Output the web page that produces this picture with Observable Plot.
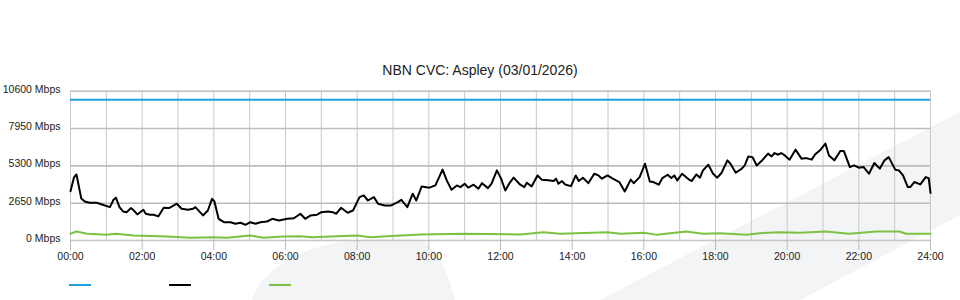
<!DOCTYPE html>
<html>
<head>
<meta charset="utf-8">
<script src="https://cdn.jsdelivr.net/npm/d3@7"></script>
<script src="https://cdn.jsdelivr.net/npm/@observablehq/plot@0.6"></script>
<style>
  body { margin: 0; background: #fff; font-family: "Liberation Sans", Arial, sans-serif; }
  #wrap { position: relative; width: 960px; height: 300px; overflow: hidden; }
  #bg { position: absolute; left: 0; top: 0; }
  #title { position: absolute; left: 0; top: 61px; width: 960px; text-align: center; font-size: 14px; line-height: 18px; color: #222; }
  #chart { position: absolute; left: 0; top: 80px; }
  #legend { position: absolute; left: 0; top: 284px; width: 960px; height: 4px; }
  .sw { position: absolute; top: 0; width: 22px; height: 2px; }
</style>
</head>
<body>
<div id="wrap">
  <svg id="bg" width="960" height="300">
    <path d="M600,300 L960,112 L960,215 L800,300 Z" fill="#f3f4f6"/>
    <path d="M252,300 C262,270 300,244 360,240 C395,238 415,238 425,242 C440,255 448,275 455,300 Z" fill="#f3f4f6"/>
  </svg>
  <div id="title">NBN CVC: Aspley (03/01/2026)</div>
  <div id="chart"></div>
  <div id="legend"></div>
</div>
<script>
// ---- data (time in minutes after midnight, values in Mbps) ----
const capacity = 10000; // blue line

const usageTimes = [0,6,10,18,24,32,44,49,66,72,76,82,88,94,101,105,112,122,126,133,139,147,156,165,178,186,197,205,209,222,230,237,241,248,257,268,276,285,293,301,310,318,329,338,349,363,374,385,393,402,413,420,431,439,445,453,464,473,484,491,498,508,515,526,537,548,554,564,573,579,588,601,611,623,630,638,647,653,660,666,675,683,689,699,705,714,721,728,735,742,753,760,764,772,782,789,800,809,813,817,823,828,838,846,851,858,867,877,884,890,899,908,919,928,938,943,953,962,970,976,985,991,1000,1006,1011,1016,1024,1036,1040,1048,1054,1059,1068,1076,1083,1090,1100,1105,1114,1124,1129,1135,1142,1149,1157,1168,1174,1179,1185,1190,1196,1204,1214,1224,1232,1241,1247,1256,1264,1270,1279,1289,1295,1305,1312,1320,1328,1337,1346,1355,1363,1370,1381,1387,1394,1402,1406,1413,1423,1432,1437,1440];
const usageValues = [3500,4500,4690,2990,2770,2680,2680,2610,2370,2890,3040,2370,2060,2010,2300,2180,1850,2180,1900,1830,1830,1710,2320,2300,2610,2250,2180,2250,2370,1780,2130,2960,2770,1540,1300,1300,1190,1260,1110,1300,1190,1300,1350,1540,1420,1540,1580,1900,1540,1780,1830,2010,2060,2010,1900,2320,1970,2130,3080,3200,2840,3080,2610,2490,2490,2720,2890,2370,3320,2840,3840,3750,3910,5030,4270,3600,3910,3790,4030,3750,3960,3680,4070,3720,4030,4980,4390,3550,4070,4460,3960,3790,4100,3840,4620,4320,4270,4220,4390,4030,4220,3980,3860,4620,4220,4460,4070,4740,4620,4390,4620,4390,4150,3480,4320,4070,4500,5450,4190,4150,3960,4430,4670,4430,4620,4270,4740,4320,4220,4690,4460,4980,5380,4740,4460,4790,5690,5450,4810,5100,5330,5970,5920,5330,5640,6170,5970,6210,6090,6210,6040,5740,6450,5810,5850,5740,6120,6450,6880,6040,5690,6350,6350,5210,5330,5170,5210,4740,5500,5100,5690,5920,5030,4980,4620,3790,3790,4150,3980,4500,4430,3380];

const greenTimes = [0,10,28,61,75,106,162,201,239,262,301,323,356,385,405,435,480,502,530,586,659,753,792,820,899,921,960,982,1004,1031,1059,1087,1132,1154,1188,1221,1265,1304,1349,1388,1399,1440];
const greenValues = [480,640,480,400,480,360,280,190,230,190,360,190,280,300,230,280,360,230,300,430,480,430,590,480,590,480,550,400,520,640,480,520,400,520,590,550,640,480,640,640,480,480];

const yTicks = [0, 2650, 5300, 7950, 10600];
const xLabelTicks = [0,120,240,360,480,600,720,840,960,1080,1200,1320,1440];
const hourGrid = [0,60,120,180,240,300,360,420,480,540,600,660,720,780,840,900,960,1020,1080,1140,1200,1260,1320,1380,1440];

const seriesColors = { capacity: "#1fa0de", usage: "#000000", green: "#7cc142" };

// ---- build tables ----
const usage = usageTimes.map((t, i) => ({ t, v: usageValues[i] }));
const green = greenTimes.map((t, i) => ({ t, v: greenValues[i] }));
const fmtTime = m => String(Math.floor(m / 60)).padStart(2, "0") + ":" + String(m % 60).padStart(2, "0");

const chart = Plot.plot({
  width: 960,
  height: 190,
  marginTop: 10.7,
  marginBottom: 30,
  marginLeft: 70,
  marginRight: 30,
  style: { fontFamily: "'Liberation Sans', Arial, sans-serif", fontSize: "10.5px", color: "#222", background: "transparent" },
  x: { domain: [0, 1440] },
  y: { domain: [0, 10600] },
  marks: [
    Plot.gridX(hourGrid, { stroke: "#c8c8c8", strokeOpacity: 1, strokeWidth: 1 }),
    Plot.gridY(yTicks, { stroke: "#bcbcbc", strokeOpacity: 1, strokeWidth: 1.6 }),
    Plot.frame({ stroke: "#c8c8c8" }),
    Plot.axisX(xLabelTicks, { tickSize: 10, tickPadding: 2, stroke: "#bbbbbb", fill: "#222", tickFormat: fmtTime, label: null }),
    Plot.axisY(yTicks, { tickSize: 0, tickPadding: 10, fill: "#222", tickFormat: d => d + " Mbps", dy: -2, label: null }),
    Plot.ruleY([capacity], { stroke: seriesColors.capacity, strokeWidth: 2 }),
    Plot.line(green, { x: "t", y: "v", stroke: seriesColors.green, strokeWidth: 2 }),
    Plot.line(usage, { x: "t", y: "v", stroke: seriesColors.usage, strokeWidth: 2, strokeLinejoin: "round" })
  ]
});
document.getElementById("chart").appendChild(chart);

// legend swatches (no labels in the reference)
const legend = document.getElementById("legend");
[seriesColors.capacity, seriesColors.usage, seriesColors.green].forEach((c, i) => {
  const s = document.createElement("span");
  s.className = "sw";
  s.style.left = (69 + i * 100) + "px";
  s.style.background = c;
  legend.appendChild(s);
});
</script>
</body>
</html>
